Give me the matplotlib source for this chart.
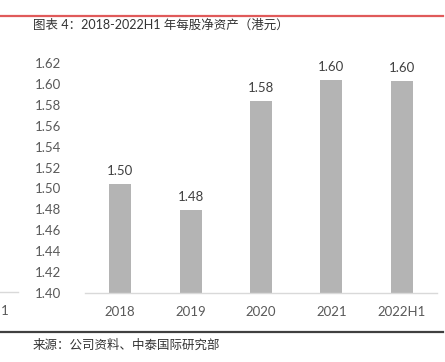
import matplotlib
matplotlib.use("Agg")
import matplotlib.pyplot as plt
from matplotlib.lines import Line2D

categories = ["2018", "2019", "2020", "2021", "2022H1"]
values = [1.504, 1.479, 1.584, 1.604, 1.603]
yticks = [1.40, 1.42, 1.44, 1.46, 1.48, 1.50, 1.52, 1.54, 1.56, 1.58, 1.60, 1.62]
title = "图表 4：2018-2022H1 年每股净资产（港元）"
source = "来源：公司资料、中泰国际研究部"

plt.rcParams['font.family'] = ['Lato', 'Noto Sans CJK SC', 'DejaVu Sans']

fig = plt.figure(figsize=(4.45, 3.62), dpi=100)
W, H = 445, 362
ax = fig.add_axes([85 / W, 1 - 293 / H, (437 - 85) / W, (293 - 63) / H])

x = range(len(categories))
bars = ax.bar(x, values, width=0.31, color="#B4B4B4", zorder=2)
for xi, v in zip(x, values):
    ax.annotate(f"{v:.2f}", (xi, v), xytext=(0, 5), textcoords="offset points",
                ha="center", va="bottom", fontsize=9.5, color="#404040")

ax.set_xlim(-0.5, len(categories) - 0.5)
ax.set_ylim(yticks[0], yticks[-1])
ax.set_yticks(yticks)
ax.set_yticklabels([f"{t:.2f}" for t in yticks])
ax.set_xticks(list(x))
ax.set_xticklabels(categories)
ax.tick_params(axis="both", length=0, labelsize=9.5, labelcolor="#595959")
ax.tick_params(axis="y", pad=17)
ax.tick_params(axis="x", pad=9)
for s in ["top", "right", "left"]:
    ax.spines[s].set_visible(False)
ax.spines["bottom"].set_color("#D9D9D9")
ax.spines["bottom"].set_linewidth(1.0)

def fy(py):
    return 1 - py / H

def fx(px):
    return px / W

# top red rule
fig.add_artist(Line2D([fx(0), fx(443)], [fy(15.5), fy(15.5)], color="#E05A5A", lw=1.6))
# bottom dark rule
fig.add_artist(Line2D([fx(0), fx(443)], [fy(332), fy(332)], color="#404040", lw=1.6))
# fragment of neighbouring chart at left
fig.add_artist(Line2D([fx(0), fx(18)], [fy(292), fy(292)], color="#D9D9D9", lw=1.0))
fig.text(fx(0.5), fy(311), "1", fontsize=9.5, color="#595959", va="center", ha="left")

fig.text(fx(33), fy(25), title, fontsize=9, color="#333333", va="center", ha="left")
fig.text(fx(33), fy(345), source, fontsize=9, color="#333333", va="center", ha="left")

fig.savefig("out.png", dpi=100)
